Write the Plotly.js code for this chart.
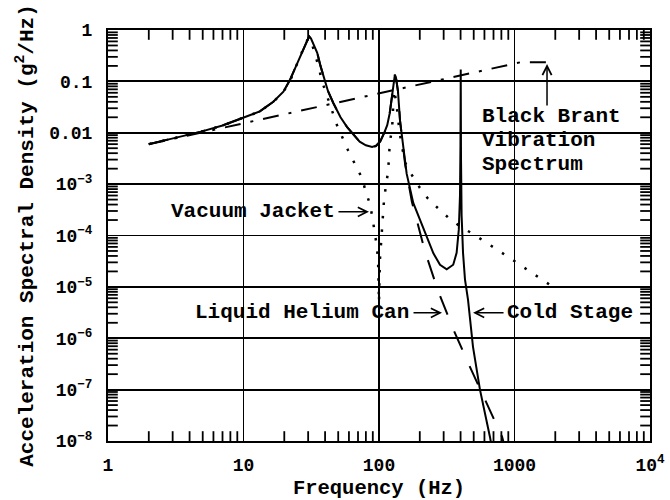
<!DOCTYPE html>
<html>
<head>
<meta charset="utf-8">
<script src="https://cdn.plot.ly/plotly-3.0.1.min.js"></script>
<style>body{margin:0;background:#fff}#chart{width:670px;height:500px}</style>
</head>
<body>
<div id="chart"></div>
<script>
// ---- Data ----
// Black Brant vibration spectrum (dash-dot)
const bbFreq = [2, 1100, 1800];
const bbPSD  = [0.006, 0.235, 0.235];

// Vacuum Jacket (dotted)
const vjFreq = [2, 3, 4.8, 7, 10, 13.2, 16.6, 19.7, 22, 24, 26, 28, 29.5, 30.5, 31.5, 33, 35.5, 38, 41.5, 49, 59, 66, 75, 80, 86, 90, 93.5, 96.7, 98.5, 100, 101.6, 103.5, 105.2, 107.1, 108.9, 112.6, 116.5, 118.6, 120, 125, 126.5, 127.5, 129, 132, 135, 138, 145, 156, 175, 200, 230, 276, 333, 397, 494, 930, 1820];
const vjPSD  = [0.006, 0.0077, 0.0104, 0.0138, 0.0195, 0.026, 0.040, 0.063, 0.10, 0.18, 0.30, 0.47, 0.63, 0.70, 0.62, 0.42, 0.21, 0.10, 0.05, 0.014, 0.0046, 0.0026, 0.0013, 7e-4, 4e-4, 2e-4, 1.1e-4, 5.8e-5, 3e-5, 5e-6, 3.4e-5, 6.6e-5, 1.3e-4, 2.5e-4, 4.9e-4, 9.5e-4, 1.7e-3, 0.0034, 0.0063, 0.0123, 0.024, 0.04, 0.068, 0.05, 0.035, 0.019, 0.007, 0.0026, 0.0015, 8.5e-4, 5.2e-4, 3.3e-4, 2.1e-4, 1.5e-4, 1.07e-4, 3.6e-5, 1.1e-5];

// Liquid Helium Can (dashed)
const lhFreq = [2, 3, 4.8, 7, 10, 13.2, 16.6, 19.7, 22, 24, 26, 28, 29.5, 30.5, 31.5, 33, 35, 37, 39, 42, 46, 52, 58, 65, 72, 80, 89, 95, 102, 110, 115, 120, 125, 128, 131, 134, 138, 143, 150, 156, 175, 219, 273, 357, 468, 630, 810, 870];
const lhPSD  = [0.006, 0.0077, 0.0104, 0.0138, 0.0195, 0.026, 0.040, 0.063, 0.106, 0.18, 0.30, 0.48, 0.65, 0.75, 0.68, 0.52, 0.36, 0.20, 0.12, 0.065, 0.038, 0.020, 0.013, 0.009, 0.0067, 0.0057, 0.0052, 0.0055, 0.0067, 0.0103, 0.014, 0.024, 0.05, 0.085, 0.135, 0.11, 0.065, 0.017, 0.0052, 0.0024, 4.5e-4, 4.8e-5, 8.3e-6, 1.4e-6, 2.8e-7, 5.3e-8, 1.2e-8, 6e-9];

// Cold Stage (solid)
const csFreq = [2, 3, 4.8, 7, 10, 13.2, 16.6, 19.7, 22, 24, 26, 28, 29.5, 30.5, 31.5, 33, 35, 37, 39, 42, 46, 52, 58, 65, 72, 80, 89, 95, 102, 110, 115, 120, 125, 128, 131, 134, 138, 143, 150, 156, 160, 179, 201, 225, 252, 282, 316, 353, 374, 388, 396, 399, 401, 403, 407, 417, 431, 454, 494, 556, 659, 700];
const csPSD  = [0.006, 0.0077, 0.0104, 0.0138, 0.0195, 0.026, 0.040, 0.063, 0.106, 0.18, 0.30, 0.48, 0.65, 0.75, 0.68, 0.52, 0.36, 0.20, 0.12, 0.065, 0.038, 0.020, 0.013, 0.009, 0.0067, 0.0057, 0.0053, 0.0056, 0.0068, 0.0104, 0.014, 0.024, 0.05, 0.085, 0.135, 0.11, 0.065, 0.017, 0.0055, 0.0026, 1.6e-3, 4.3e-4, 2e-4, 9.5e-5, 4.5e-5, 2.7e-5, 2.2e-5, 2.7e-5, 4.6e-5, 1.3e-4, 6e-4, 0.005, 0.17, 0.003, 2.5e-4, 4.6e-5, 1.4e-5, 5.6e-6, 6.8e-7, 1e-7, 1.2e-8, 5e-9];

// Tick labels
const xTickVals = [1, 10, 100, 1000, 10000];
const xTickText = ['1', '10', '100', '1000', '10<sup>4</sup>'];
const yTickVals = [1, 0.1, 0.01, 1e-3, 1e-4, 1e-5, 1e-6, 1e-7, 1e-8];
const yTickText = ['1', '0.1', '0.01', '10<sup>\u22123</sup>', '10<sup>\u22124</sup>', '10<sup>\u22125</sup>', '10<sup>\u22126</sup>', '10<sup>\u22127</sup>', '10<sup>\u22128</sup>'];

// Text labels
const labelVJ = 'Vacuum Jacket';
const labelLH = 'Liquid Helium Can';
const labelCS = 'Cold Stage';
const labelBB = ['Black Brant', 'Vibration', 'Spectrum'];
const xTitle = 'Frequency (Hz)';
const yTitle = 'Acceleration Spectral Density (g<sup>2</sup>/Hz)';

const X_RANGE = [0, 4];   // log10 of 1 .. 10^4 Hz
const Y_RANGE = [-8, 0];  // log10 of 1e-8 .. 1

// ---- minor tick marks (2..9 in each decade) as line-symbol markers centred on the frame;
//      the plot-area clip keeps only the inner half, giving inside ticks on all four sides ----
function minorTickTraces() {
  const xLo = Math.pow(10, X_RANGE[0]), xHi = Math.pow(10, X_RANGE[1]);
  const yLo = Math.pow(10, Y_RANGE[0]), yHi = Math.pow(10, Y_RANGE[1]);
  const xt = {x: [], y: []}, yt = {x: [], y: []};
  for (let d = X_RANGE[0]; d < X_RANGE[1]; d++) {
    for (let k = 2; k <= 9; k++) {
      const v = k * Math.pow(10, d);
      xt.x.push(v, v); xt.y.push(yLo, yHi);
    }
  }
  for (let d = Y_RANGE[0]; d < Y_RANGE[1]; d++) {
    for (let k = 2; k <= 9; k++) {
      const v = k * Math.pow(10, d);
      yt.x.push(xLo, xHi); yt.y.push(v, v);
    }
  }
  const mk = (sym) => ({symbol: sym, size: 14, color: 'black', line: {color: 'black', width: 1.8}});
  return [
    {x: xt.x, y: xt.y, mode: 'markers', marker: mk('line-ns'), cliponaxis: true, hoverinfo: 'skip', name: 'x minor ticks'},
    {x: yt.x, y: yt.y, mode: 'markers', marker: mk('line-ew'), cliponaxis: true, hoverinfo: 'skip', name: 'y minor ticks'}
  ];
}

const FONT = 'Liberation Mono';

const traces = minorTickTraces().concat([
  {x: bbFreq, y: bbPSD, mode: 'lines', line: {color: 'black', width: 2, dash: '16px,10px,3px,10px'}, hoverinfo: 'skip', name: 'Black Brant Vibration Spectrum'},
  {x: vjFreq, y: vjPSD, mode: 'lines', line: {color: 'black', width: 2.5, dash: '2.5px,11px'}, hoverinfo: 'skip', name: 'Vacuum Jacket'},
  {x: lhFreq, y: lhPSD, mode: 'lines', line: {color: 'black', width: 2, dash: '20px,18px'}, hoverinfo: 'skip', name: 'Liquid Helium Can'},
  {x: csFreq, y: csPSD, mode: 'lines', line: {color: 'black', width: 2}, hoverinfo: 'skip', name: 'Cold Stage'}
]);

const axisCommon = {
  type: 'log',
  tickmode: 'array',
  ticks: 'inside',
  ticklen: 8,
  tickwidth: 1.8,
  tickcolor: 'black',
  showgrid: true,
  gridcolor: 'black',
  gridwidth: 1.8,
  showline: true,
  linecolor: 'black',
  linewidth: 2,
  mirror: 'ticks',
  zeroline: false,
  automargin: false,
  tickfont: {family: FONT, size: 18, color: 'black', weight: 'bold'}
};

const annFont = {family: FONT, size: 21, color: 'black', weight: 'bold'};
function textAnn(text, x, y, xanchor) {
  return {x: x, y: y, xref: 'x', yref: 'y', text: text, showarrow: false, xanchor: xanchor, yanchor: 'middle', font: annFont};
}
function arrowAnn(x, y, ax, ay) {
  return {x: x, y: y, xref: 'x', yref: 'y', text: '', showarrow: true, ax: ax, ay: ay,
          arrowhead: 5, arrowsize: 1.2, arrowwidth: 1.5, arrowcolor: 'black', standoff: 0, startstandoff: 0};
}

const layout = {
  width: 670, height: 500,
  margin: {l: 108, r: 20, t: 30, b: 59},
  paper_bgcolor: 'white', plot_bgcolor: 'white',
  showlegend: false,
  font: {family: FONT, size: 18, color: 'black', weight: 'bold'},
  xaxis: Object.assign({}, axisCommon, {
    range: X_RANGE, tickvals: xTickVals, ticktext: xTickText, ticklabelstandoff: 6,
    title: {text: xTitle, font: {family: FONT, size: 20.5, color: 'black', weight: 'bold'}, standoff: 6}
  }),
  yaxis: Object.assign({}, axisCommon, {
    range: Y_RANGE, tickvals: yTickVals, ticktext: yTickText, ticklabelstandoff: 10,
    title: {text: yTitle, font: {family: FONT, size: 21, color: 'black', weight: 'bold'}, standoff: 10}
  }),
  annotations: [
    textAnn(labelVJ, 1.690, -3.54, 'right'),
    arrowAnn(1.926, -3.54, -32, 0),
    textAnn(labelLH, 2.236, -5.506, 'right'),
    arrowAnn(2.465, -5.506, -30, 0),
    textAnn(labelCS, 2.930, -5.506, 'left'),
    arrowAnn(2.694, -5.506, 32, 0),
    textAnn(labelBB[0], 2.745, -1.683, 'left'),
    textAnn(labelBB[1], 2.745, -2.150, 'left'),
    textAnn(labelBB[2], 2.745, -2.617, 'left'),
    arrowAnn(3.240, -0.661, 0, 43)
  ]
};

Plotly.newPlot('chart', traces, layout, {staticPlot: true, displayModeBar: false});
</script>
</body>
</html>
